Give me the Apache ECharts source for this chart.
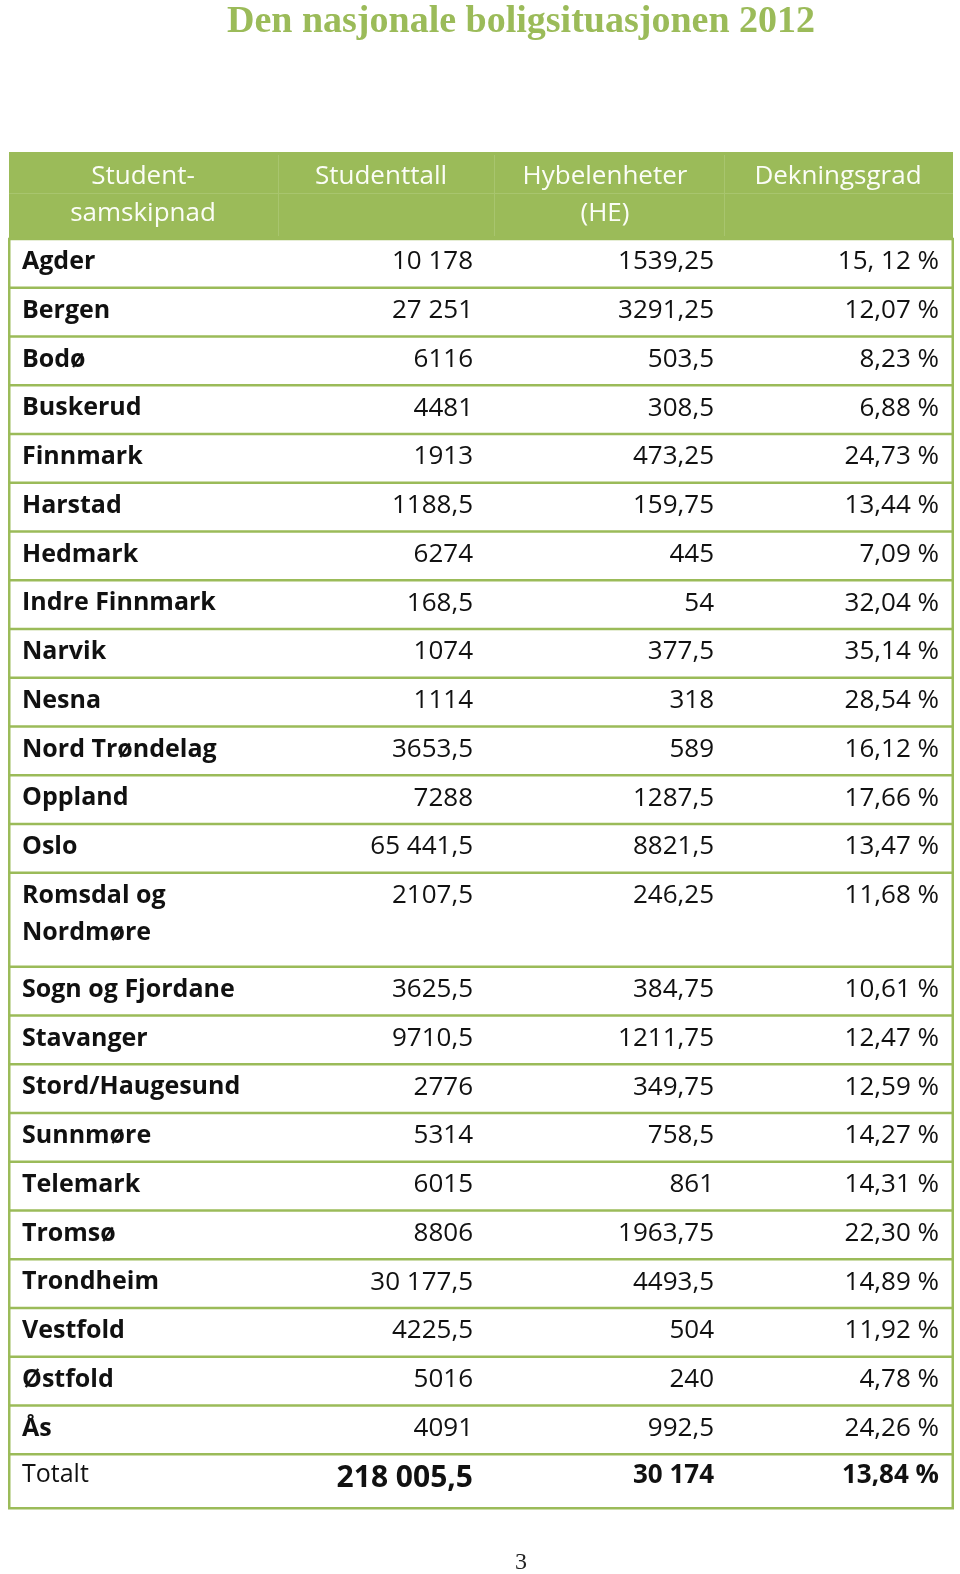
<!DOCTYPE html>
<html>
<head>
<meta charset="utf-8">
<script src="https://cdn.jsdelivr.net/npm/echarts@6/dist/echarts.min.js"></script>
<style>
  html, body { margin: 0; padding: 0; background: #fff; }
  #main { width: 960px; height: 1574px; }
</style>
</head>
<body>
<div id="main"></div>
<script>
// tabelldata
const columns = ['Student-\nsamskipnad', 'Studenttall', 'Hybelenheter\n(HE)', 'Dekningsgrad'];
const names = ['Agder', 'Bergen', 'Bodø', 'Buskerud', 'Finnmark', 'Harstad', 'Hedmark', 'Indre Finnmark',
  'Narvik', 'Nesna', 'Nord Trøndelag', 'Oppland', 'Oslo', 'Romsdal og\nNordmøre', 'Sogn og Fjordane',
  'Stavanger', 'Stord/Haugesund', 'Sunnmøre', 'Telemark', 'Tromsø', 'Trondheim', 'Vestfold', 'Østfold', 'Ås'];
const studenttall = ['10 178', '27 251', '6116', '4481', '1913', '1188,5', '6274', '168,5', '1074', '1114',
  '3653,5', '7288', '65 441,5', '2107,5', '3625,5', '9710,5', '2776', '5314', '6015', '8806', '30 177,5',
  '4225,5', '5016', '4091'];
const hybelenheter = ['1539,25', '3291,25', '503,5', '308,5', '473,25', '159,75', '445', '54', '377,5', '318',
  '589', '1287,5', '8821,5', '246,25', '384,75', '1211,75', '349,75', '758,5', '861', '1963,75', '4493,5',
  '504', '240', '992,5'];
const dekningsgrad = ['15, 12 %', '12,07 %', '8,23 %', '6,88 %', '24,73 %', '13,44 %', '7,09 %', '32,04 %',
  '35,14 %', '28,54 %', '16,12 %', '17,66 %', '13,47 %', '11,68 %', '10,61 %', '12,47 %', '12,59 %',
  '14,27 %', '14,31 %', '22,30 %', '14,89 %', '11,92 %', '4,78 %', '24,26 %'];
const totalRow = ['Totalt', '218 005,5', '30 174', '13,84 %'];

const green = '#9BBB59';
const font = '"Open Sans", sans-serif';

// rader: header, data, totalt
let rows = [{ kind: 'header', cells: columns }];
names.forEach(function (n, i) {
  rows.push({ kind: 'data', cells: [n, studenttall[i], hybelenheter[i], dekningsgrad[i]] });
});
rows.push({ kind: 'total', cells: totalRow });

// y-posisjoner
let y = 152;
rows.forEach(function (r) {
  let lines = r.cells[0].split('\n').length;
  let h = r.kind === 'header' ? 87 : r.kind === 'total' ? 54 : (lines > 1 ? 94 : 48.75);
  r.top = y; r.bottom = y + h;
  y += h;
});

const colEdges = [9, 278, 494, 724, 953];
const textX = [22, 473, 714, 939];
const headX = [143, 381, 605, 838];

function renderItem(params, api) {
  let r = rows[api.value(0)];
  let tl = api.coord([colEdges[0], r.top]);
  let br = api.coord([colEdges[4], r.bottom]);
  let children = [];
  if (r.kind === 'header') {
    children.push({ type: 'rect', shape: { x: tl[0], y: tl[1], width: br[0] - tl[0], height: br[1] - tl[1] },
      style: { fill: green } });
    // svake linjer i header
    let mid = api.coord([0, r.top + 41])[1];
    children.push({ type: 'rect', shape: { x: tl[0], y: mid, width: br[0] - tl[0], height: 1 },
      style: { fill: '#a8c56e' } });
    [1, 2, 3].forEach(function (c) {
      let p = api.coord([colEdges[c], r.top]);
      children.push({ type: 'rect', shape: { x: p[0], y: tl[1] + 3, width: 1, height: br[1] - tl[1] - 6 },
        style: { fill: '#a8c56e' } });
    });
    r.cells.forEach(function (t, c) {
      let p = api.coord([headX[c], r.top + 6]);
      children.push({ type: 'text', style: { text: t, x: p[0], y: p[1], align: 'center', verticalAlign: 'top',
        lineHeight: 37, fontFamily: font, fontSize: 26, fill: '#fbfdf6' } });
    });
  } else {
    r.cells.forEach(function (t, c) {
      let bold = r.kind === 'total' ? c > 0 : c === 0;
      let size = (r.kind === 'total' && c === 1) ? 30 : (c === 0 ? 25 : 26);
      let off = r.kind === 'total' ? (c === 1 ? 24 : 21) : 23;
      let p = api.coord([textX[c], r.top + off - 18.5]);
      children.push({ type: 'text', style: { text: t, x: p[0], y: p[1], align: c === 0 ? 'left' : 'right',
        verticalAlign: 'top', lineHeight: 37, fontFamily: font, fontSize: size,
        fontWeight: bold ? 'bold' : 'normal', fill: '#111' } });
    });
    // venstre og høyre kant
    children.push({ type: 'rect', shape: { x: tl[0] - 1, y: tl[1], width: 2.5, height: br[1] - tl[1] },
      style: { fill: green } });
    children.push({ type: 'rect', shape: { x: br[0] - 1.5, y: tl[1], width: 2.5, height: br[1] - tl[1] },
      style: { fill: green } });
  }
  // linje under raden
  children.push({ type: 'rect', shape: { x: tl[0] - 1, y: br[1] - 1.25, width: br[0] - tl[0] + 2, height: 2.5 },
    style: { fill: green } });
  return { type: 'group', children: children };
}

let myChart = echarts.init(document.getElementById('main'));
let option = {
  animation: false,
  title: [
    {
      text: 'Den nasjonale boligsituasjonen 2012',
      left: 516, top: -2, textAlign: 'center',
      textStyle: { fontFamily: '"Liberation Serif", serif', fontWeight: 'bold', fontSize: 38, color: green }
    },
    {
      text: '3',
      left: 516, top: 1546, textAlign: 'center',
      textStyle: { fontFamily: '"Liberation Serif", serif', fontWeight: 'normal', fontSize: 24, color: '#222' }
    }
  ],
  grid: { left: 0, right: 0, top: 0, bottom: 0 },
  xAxis: { type: 'value', min: 0, max: 960, show: false },
  yAxis: { type: 'value', min: 0, max: 1574, inverse: true, show: false },
  series: [{
    type: 'custom',
    renderItem: renderItem,
    data: rows.map(function (r, i) { return [i]; }),
    clip: false
  }]
};
myChart.setOption(option);
</script>
</body>
</html>
